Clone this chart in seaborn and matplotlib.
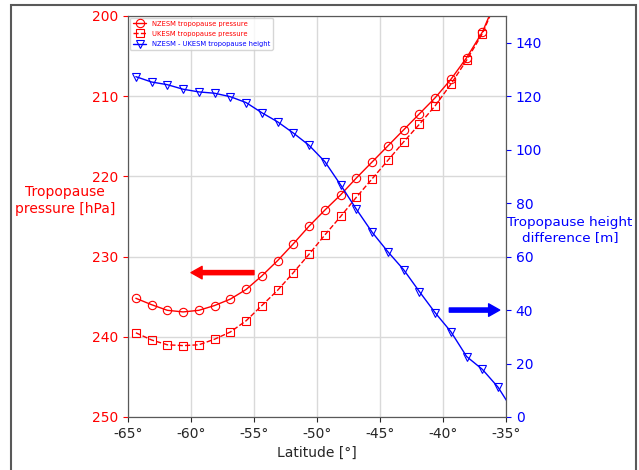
#!/usr/bin/env python3
import pandas as pd
import matplotlib
matplotlib.use("Agg")
import matplotlib.pyplot as plt
from matplotlib.patches import Rectangle
from matplotlib.ticker import FuncFormatter
import seaborn as sns

# Latitude centres (1.25 deg grid)
lat = [-64.375, -63.125, -61.875, -60.625, -59.375, -58.125, -56.875, -55.625,
       -54.375, -53.125, -51.875, -50.625, -49.375, -48.125, -46.875, -45.625,
       -44.375, -43.125, -41.875, -40.625, -39.375, -38.125, -36.875, -35.625,
       -34.375]

# Tropopause pressure [hPa]
nzesm_p = [235.2, 236.0, 236.7, 236.9, 236.7, 236.1, 235.3, 234.1,
           232.4, 230.5, 228.4, 226.2, 224.2, 222.3, 220.2, 218.2,
           216.2, 214.2, 212.2, 210.2, 207.9, 205.2, 202.0, 197.4,
           193.0]
ukesm_p = [239.5, 240.4, 241.0, 241.1, 241.0, 240.3, 239.4, 238.0,
           236.1, 234.2, 232.0, 229.7, 227.3, 225.0, 222.6, 220.3,
           218.0, 215.7, 213.5, 211.2, 208.5, 205.5, 202.2, 197.6,
           193.0]

# NZESM - UKESM tropopause height [m]
height_diff = [127.3, 125.3, 124.3, 122.6, 121.6, 121.1, 119.8, 117.6,
               113.8, 110.4, 106.2, 101.6, 95.5, 86.8, 77.7, 69.1,
               61.8, 55.1, 46.9, 39.0, 31.9, 22.6, 17.8, 11.1,
               1.8]

xticks = [-65, -60, -55, -50, -45, -40, -35]
p_ticks = [200, 210, 220, 230, 240, 250]
h_ticks = [0, 20, 40, 60, 80, 100, 120, 140]

df = pd.DataFrame({"lat": lat, "nz": nzesm_p, "uk": ukesm_p, "dh": height_diff})

sns.set_style("ticks", {"axes.edgecolor": "0.35", "grid.color": "0.85"})

fig = plt.figure(figsize=(6.39, 4.70), dpi=100)
ax = fig.add_axes([0.2003, 0.1128, 0.5916, 0.8532])
ax2 = ax.twinx()

sns.lineplot(data=df, x="lat", y="nz", ax=ax, color="red", lw=1,
             marker="o", ms=6, mfc="none", mec="red", mew=0.8,
             label="NZESM tropopause pressure", legend=False)
sns.lineplot(data=df, x="lat", y="uk", ax=ax, color="red", lw=1, ls="--",
             marker="s", ms=6, mfc="none", mec="red", mew=0.8,
             label="UKESM tropopause pressure", legend=False)
sns.lineplot(data=df, x="lat", y="dh", ax=ax2, color="blue", lw=1,
             marker="v", ms=6, mfc="none", mec="blue", mew=0.8,
             label="NZESM - UKESM tropopause height", legend=False)

ax.set_xlim(-65, -35)
ax.set_ylim(250, 200)
ax2.set_ylim(0, 150)
ax.set_xticks(xticks)
ax.set_yticks(p_ticks)
ax2.set_yticks(h_ticks)
ax.xaxis.set_major_formatter(FuncFormatter(lambda v, pos: f"{int(v)}°"))
ax.grid(True, lw=1)
ax.set_axisbelow(True)

ax.tick_params(axis="y", colors="red", labelsize=10)
ax.tick_params(axis="x", labelsize=10)
ax2.tick_params(axis="y", colors="blue", labelsize=10)

ax.set_xlabel("Latitude [°]", fontsize=10)
ax.set_ylabel("Tropopause\npressure [hPa]", color="red", fontsize=10,
              rotation=0, ha="center", va="center")
ax.yaxis.set_label_coords(-0.167, 0.54)
ax2.set_ylabel("Tropopause height\ndifference [m]", color="blue", fontsize=9.7,
               rotation=0, ha="center", va="center")
ax2.yaxis.set_label_coords(1.169, 0.466)

# direction arrows
ax.annotate("", xy=(-60, 232), xytext=(-55, 232),
            arrowprops=dict(color="red", width=3, headwidth=9, headlength=8))
ax2.annotate("", xy=(-35.5, 40), xytext=(-39.5, 40),
             arrowprops=dict(color="blue", width=3, headwidth=9, headlength=8))

h1, l1 = ax.get_legend_handles_labels()
h2, l2 = ax2.get_legend_handles_labels()
ax2.legend(h1 + h2, l1 + l2, loc="upper left", fontsize=4.9,
           labelcolor="linecolor", frameon=True, labelspacing=0.6,
           borderaxespad=0.3)

# outer frame
fig.patches.append(Rectangle((11 / 639, -0.1), 625 / 639, 1.1 - 5 / 470,
                             transform=fig.transFigure, fill=False,
                             edgecolor="0.35", lw=1.5))

fig.savefig("out.png", dpi=100)
